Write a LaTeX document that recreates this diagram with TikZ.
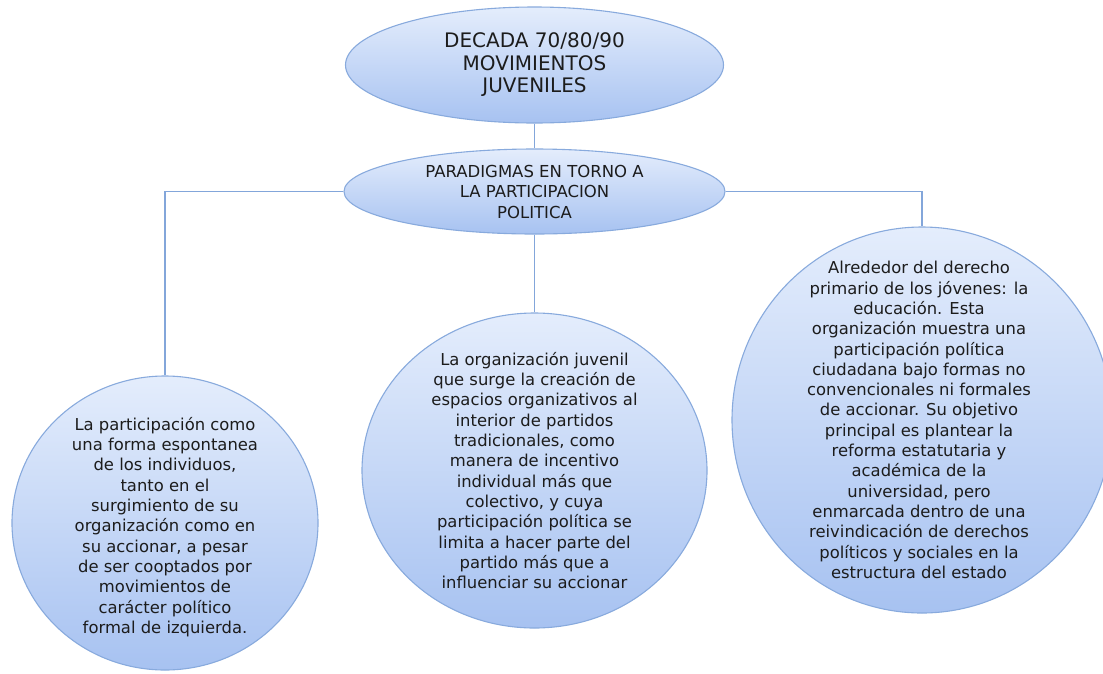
\documentclass[tikz,border=0pt]{standalone}
\usepackage{fontspec}
\setmainfont{DejaVu Sans}
\usetikzlibrary{shapes.geometric}
\definecolor{shtop}{HTML}{E4EDFC}
\definecolor{shbot}{HTML}{A7C2F1}
\definecolor{edge}{HTML}{88AADD}
\definecolor{conn}{HTML}{83A6DA}
\definecolor{txt}{HTML}{1C1C1C}
\tikzset{
  bubble/.style={ellipse, inner sep=0pt, draw=edge, line width=1.1pt, top color=shtop, bottom color=shbot},
  link/.style={draw=conn, line width=1.4pt},
  body/.style={align=center, text=txt, inner sep=0pt, font=\fontsize{16.4}{20.3}\selectfont},
  head/.style={align=center, text=txt, inner sep=0pt, font=\fontsize{20}{22.5}\selectfont},
  sub/.style={align=center, text=txt, inner sep=0pt, font=\fontsize{16.5}{20.5}\selectfont},
}
\begin{document}
\begin{tikzpicture}[x=1pt, y=-1pt]
\useasboundingbox (0,0) rectangle (1103,673);
\fill[white] (0,0) rectangle (1103,673);

\node[bubble, minimum width=378pt, minimum height=116pt] (top) at (534.5,65) {};
\node[head] (toptxt) at (top.center) {DECADA 70/80/90\\MOVIMIENTOS\\JUVENILES};

\node[bubble, minimum width=381pt, minimum height=85pt] (mid) at (534.5,191.5) {};
\node[sub] (midtxt) at (mid.center) {PARADIGMAS EN TORNO A\\LA PARTICIPACION\\POLITICA};

\node[bubble, minimum width=306pt, minimum height=294pt] (left) at (165,523) {};
\node[body] (lefttxt) at (165,527) {La participación como\\una forma espontanea\\de los individuos,\\tanto en el\\surgimiento de su\\organización como en\\su accionar, a pesar\\de ser cooptados por\\movimientos de\\carácter político\\formal de izquierda.};

\node[bubble, minimum width=345pt, minimum height=315pt] (center) at (534.5,470.5) {};
\node[body] (centertxt) at (center.center) {La organización juvenil\\que surge la creación de\\espacios organizativos al\\interior de partidos\\tradicionales, como\\manera de incentivo\\individual más que\\colectivo, y cuya\\participación política se\\limita a hacer parte del\\partido más que a\\influenciar su accionar};

\node[bubble, minimum width=380pt, minimum height=386pt] (right) at (922,420) {};
\node[body] (righttxt) at (919,420) {Alrededor del derecho\\primario de los jóvenes: la\\educación. Esta\\organización muestra una\\participación política\\ciudadana bajo formas no\\convencionales ni formales\\de accionar. Su objetivo\\principal es plantear la\\reforma estatutaria y\\académica de la\\universidad, pero\\enmarcada dentro de una\\reivindicación de derechos\\políticos y sociales en la\\estructura del estado};

\draw[link] (top.south) -- (mid.north);
\draw[link] (mid.south) -- (center.north);
\draw[link] (mid.west) -| (left.north);
\draw[link] (mid.east) -| (right.north);
\end{tikzpicture}
\end{document}
